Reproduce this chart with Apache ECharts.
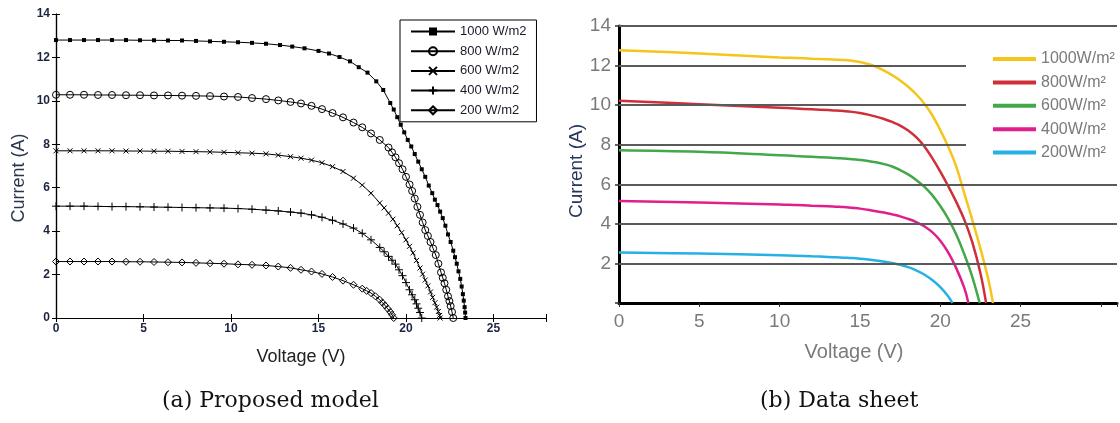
<!DOCTYPE html>
<html>
<head>
<meta charset="utf-8">
<script src="https://cdn.jsdelivr.net/npm/echarts@6/dist/echarts.min.js"></script>
<style>
  html, body { margin: 0; padding: 0; background: #fff; }
  #chart { width: 1120px; height: 423px; }
</style>
</head>
<body>
<div id="chart"></div>
<script>
// (a) proposed model, [voltage, current]
const namesA = ['1000 W/m2', '800 W/m2', '600 W/m2', '400 W/m2', '200 W/m2']
const model1000 = [[0,12.8],[0.8,12.8],[1.6,12.8],[2.4,12.8],[3.2,12.8],[4,12.8],[4.8,12.79],[5.6,12.79],[6.4,12.78],[7.2,12.78],[8,12.76],[8.8,12.74],[9.6,12.72],[10.4,12.7],[11.2,12.67],[12,12.63],[12.8,12.57],[13.5,12.5],[14.2,12.42],[15,12.3],[15.6,12.18],[16.2,12.02],[16.8,11.82],[17.3,11.55],[17.8,11.3],[18.3,10.9],[18.7,10.5],[19.1,9.9],[19.3,9.6],[19.5,9.25],[19.7,8.9],[19.9,8.55],[20.1,8.2],[20.3,7.9],[20.5,7.55],[20.7,7.2],[20.9,6.85],[21.1,6.5],[21.3,6.1],[21.5,5.75],[21.65,5.45],[21.8,5.2],[21.95,4.9],[22.1,4.6],[22.25,4.25],[22.4,3.85],[22.55,3.5],[22.7,3.1],[22.8,2.8],[22.9,2.5],[23,2.15],[23.1,1.8],[23.18,1.45],[23.25,1.1],[23.3,0.8],[23.35,0.5],[23.38,0.25],[23.4,0]]
const model800 = [[0,10.28],[0.8,10.28],[1.6,10.28],[2.4,10.27],[3.2,10.27],[4,10.26],[4.8,10.26],[5.6,10.25],[6.4,10.25],[7.2,10.24],[8,10.23],[8.8,10.22],[9.6,10.2],[10.4,10.18],[11.2,10.13],[12,10.08],[12.7,10.02],[13.4,9.95],[14,9.88],[14.6,9.77],[15.2,9.62],[15.8,9.44],[16.4,9.24],[17,9.0],[17.5,8.78],[18,8.5],[18.5,8.2],[19,7.85],[19.2,7.63],[19.4,7.4],[19.6,7.13],[19.8,6.85],[20,6.5],[20.2,6.15],[20.35,5.85],[20.5,5.5],[20.65,5.12],[20.8,4.75],[20.95,4.4],[21.1,4.05],[21.25,3.78],[21.4,3.5],[21.55,3.2],[21.7,2.9],[21.85,2.5],[22,2.1],[22.1,1.85],[22.2,1.6],[22.3,1.3],[22.4,1.0],[22.48,0.78],[22.55,0.55],[22.63,0.28],[22.7,0]]
const model600 = [[0,7.7],[0.8,7.7],[1.6,7.7],[2.4,7.7],[3.2,7.7],[4,7.69],[4.8,7.69],[5.6,7.68],[6.4,7.68],[7.2,7.67],[8,7.66],[8.8,7.65],[9.6,7.63],[10.4,7.61],[11.2,7.59],[12,7.56],[12.7,7.5],[13.4,7.43],[14,7.36],[14.6,7.27],[15.2,7.15],[15.8,6.97],[16.4,6.75],[17,6.44],[17.5,6.12],[18,5.75],[18.5,5.3],[18.75,5.07],[19,4.83],[19.25,4.55],[19.5,4.25],[19.75,3.93],[20,3.6],[20.2,3.3],[20.4,3.0],[20.6,2.65],[20.8,2.3],[20.95,2.02],[21.1,1.75],[21.25,1.48],[21.4,1.2],[21.52,0.95],[21.65,0.7],[21.75,0.5],[21.85,0.3],[21.92,0.12],[21.95,0]]
const model400 = [[0,5.15],[0.8,5.15],[1.6,5.15],[2.4,5.14],[3.2,5.13],[4,5.13],[4.8,5.12],[5.6,5.11],[6.4,5.1],[7.2,5.09],[8,5.08],[8.8,5.07],[9.6,5.06],[10.4,5.04],[11.2,5.01],[12,4.97],[12.7,4.93],[13.4,4.88],[14,4.83],[14.6,4.75],[15.2,4.64],[15.8,4.5],[16.4,4.33],[17,4.14],[17.5,3.9],[18,3.6],[18.5,3.25],[18.75,3.05],[19,2.84],[19.2,2.66],[19.4,2.48],[19.6,2.22],[19.8,1.95],[20,1.63],[20.2,1.3],[20.35,1.07],[20.5,0.84],[20.6,0.65],[20.7,0.45],[20.8,0.25],[20.9,0]]
const model200 = [[0,2.6],[0.8,2.6],[1.6,2.6],[2.4,2.6],[3.2,2.6],[4,2.59],[4.8,2.59],[5.6,2.58],[6.4,2.57],[7.2,2.56],[8,2.54],[8.8,2.52],[9.6,2.5],[10.4,2.47],[11.2,2.45],[12,2.42],[12.7,2.37],[13.4,2.31],[14,2.22],[14.6,2.14],[15.2,2.03],[15.8,1.89],[16.4,1.72],[17,1.53],[17.5,1.35],[17.75,1.25],[18,1.15],[18.25,1.0],[18.5,0.84],[18.65,0.71],[18.8,0.58],[18.95,0.43],[19.1,0.28],[19.2,0.15],[19.3,0]]

// (b) data sheet, [voltage, current]
const namesB = ['1000W/m²', '800W/m²', '600W/m²', '400W/m²', '200W/m²']
const sheet1000 = [[0,12.78],[5,12.61],[10,12.41],[11,12.38],[12,12.35],[13,12.32],[13.5,12.3],[14,12.28],[14.5,12.24],[15,12.18],[15.5,12.08],[16,11.94],[16.5,11.75],[17,11.52],[17.5,11.25],[18,10.93],[18.5,10.55],[19,10.08],[19.5,9.49],[20,8.74],[20.5,7.89],[21,6.88],[21.5,5.53],[22,4.18],[22.5,2.75],[23,1.15],[23.28,0]]
const sheet800 = [[0,10.22],[5,10.05],[10,9.87],[11,9.83],[12,9.79],[13,9.75],[13.5,9.73],[14,9.7],[14.5,9.66],[15,9.6],[15.5,9.52],[16,9.42],[16.5,9.3],[17,9.15],[17.5,8.97],[18,8.72],[18.5,8.38],[19,7.92],[19.5,7.32],[20,6.64],[20.5,5.9],[21,5.1],[21.5,4.2],[22,3.05],[22.5,1.5],[22.85,0]]
const sheet600 = [[0,7.72],[5,7.64],[10,7.47],[11,7.43],[12,7.39],[13,7.35],[13.5,7.33],[14,7.3],[14.5,7.27],[15,7.23],[15.5,7.18],[16,7.11],[16.5,7.02],[17,6.9],[17.5,6.72],[18,6.5],[18.5,6.22],[19,5.88],[19.5,5.45],[20,4.9],[20.5,4.25],[21,3.45],[21.5,2.45],[22,1.3],[22.45,0]]
const sheet400 = [[0,5.16],[5,5.08],[10,4.98],[11,4.95],[12,4.92],[13,4.89],[13.5,4.87],[14,4.85],[14.5,4.81],[15,4.77],[15.5,4.71],[16,4.64],[16.5,4.57],[17,4.48],[17.5,4.38],[18,4.25],[18.5,4.09],[19,3.88],[19.5,3.58],[20,3.15],[20.5,2.55],[21,1.75],[21.5,0.75],[21.75,0]]
const sheet200 = [[0,2.55],[5,2.5],[10,2.41],[11,2.39],[12,2.36],[13,2.33],[13.5,2.31],[14,2.29],[14.5,2.27],[15,2.24],[15.5,2.2],[16,2.15],[16.5,2.09],[17,2.02],[17.5,1.93],[18,1.81],[18.5,1.65],[19,1.44],[19.5,1.16],[20,0.8],[20.5,0.33],[20.75,0]]

const xLabelsA = [0, 5, 10, 15, 20, 25]
const yLabelsA = [0, 2, 4, 6, 8, 10, 12, 14]
const xLabelsB = [0, 5, 10, 15, 20, 25]
const yLabelsB = [2, 4, 6, 8, 10, 12, 14]
const gridFullB = [2, 4, 6, 14]
const gridShortB = [8, 10, 12]
const shortEndB = 21.6

const symbolsA = [
  'rect',
  'path://M10,5A5,5,0,1,1,0,5A5,5,0,1,1,10,5Z',
  'path://M0,0L10,10M10,0L0,10',
  'path://M5,0L5,10M0,5L10,5',
  'path://M5,0L10,5L5,10L0,5Z'
]
const symbolSizesA = [4, 7, 5, 8, 7]
const colorsB = ['#f6c51c', '#cf2f38', '#43a84a', '#e01e8c', '#27b0e6']

const sans = 'Liberation Sans'
const chart = echarts.init(document.getElementById('chart'))

const modelSeries = [model1000, model800, model600, model400, model200].map((d, i) => ({
  name: namesA[i],
  type: 'line',
  xAxisIndex: 0,
  yAxisIndex: 0,
  data: d,
  symbol: symbolsA[i],
  symbolSize: symbolSizesA[i],
  showAllSymbol: true,
  lineStyle: { color: '#000', width: 1 },
  itemStyle: i === 0
    ? { color: '#000' }
    : { color: 'rgba(0,0,0,0)', borderColor: '#000', borderWidth: 1 },
  emphasis: { disabled: true },
  z: 3
}))

const sheetSeries = [sheet1000, sheet800, sheet600, sheet400, sheet200].map((d, i) => ({
  name: namesB[i],
  type: 'line',
  xAxisIndex: 1,
  yAxisIndex: 1,
  data: d,
  symbol: 'none',
  smooth: 0.4,
  lineStyle: { color: colorsB[i], width: 2.5 },
  itemStyle: { color: colorsB[i] },
  z: 4
}))

const gridLinesB = {
  type: 'line',
  xAxisIndex: 1,
  yAxisIndex: 1,
  data: [],
  silent: true,
  z: 1,
  markLine: {
    silent: true,
    symbol: 'none',
    label: { show: false },
    lineStyle: { color: '#5a5a5a', width: 2, type: 'solid' },
    data: gridFullB.map(v => [{ coord: [0, v] }, { coord: [31, v] }])
      .concat(gridShortB.map(v => [{ coord: [0, v] }, { coord: [shortEndB, v] }]))
  }
}

const option = {
  backgroundColor: '#fff',
  animation: false,
  grid: [
    { left: 56, top: 14, width: 490, height: 304 },
    { left: 619, top: 26, width: 499, height: 277 }
  ],
  legend: [
    {
      data: namesA,
      orient: 'vertical',
      left: 400,
      top: 20,
      itemWidth: 44,
      itemHeight: 10,
      itemGap: 6.7,
      padding: [5, 10, 5, 10],
      borderColor: '#000',
      borderWidth: 1,
      backgroundColor: '#fff',
      selectedMode: false,
      textStyle: { fontFamily: sans, fontSize: 13, color: '#1a1a2a' }
    },
    {
      data: namesB,
      orient: 'vertical',
      left: 993,
      top: 51,
      icon: 'rect',
      itemWidth: 43,
      itemHeight: 4,
      itemGap: 7.4,
      padding: 0,
      selectedMode: false,
      textStyle: { fontFamily: sans, fontSize: 16, lineHeight: 16, color: '#7a7a7a' }
    }
  ],
  xAxis: [
    {
      gridIndex: 0, type: 'value', min: 0, max: 28, interval: 5,
      name: 'Voltage (V)', nameLocation: 'middle', nameGap: 30,
      nameTextStyle: { fontFamily: sans, fontSize: 18, color: '#222' },
      axisLine: { lineStyle: { color: '#000', width: 1.2 } },
      axisTick: { inside: true, length: 4, lineStyle: { color: '#000' } },
      axisLabel: {
        fontFamily: sans, fontSize: 12, fontWeight: 'bold', color: '#1c2440', margin: 5,
        formatter: v => xLabelsA.includes(v) ? String(v) : ''
      },
      splitLine: { show: false }
    },
    {
      gridIndex: 1, type: 'value', min: 0, max: 31, interval: 5,
      name: 'Voltage (V)', nameLocation: 'middle', nameGap: 39,
      nameTextStyle: { fontFamily: sans, fontSize: 20, color: '#7a7a7a', padding: [0, 28, 0, 0] },
      axisLine: { lineStyle: { color: '#000', width: 3 } },
      axisTick: { length: 4, lineStyle: { color: '#333', width: 1 } },
      axisLabel: {
        fontFamily: sans, fontSize: 19, color: '#7a7a7a', margin: 9,
        formatter: v => xLabelsB.includes(v) ? String(v) : ''
      },
      splitLine: { show: false }
    },
    {
      gridIndex: 0, type: 'value', min: 0, max: 28, interval: 5, position: 'top',
      axisLine: { lineStyle: { color: '#000', width: 1.2 } },
      axisTick: { inside: true, length: 4, lineStyle: { color: '#000' } },
      axisLabel: { show: false },
      splitLine: { show: false }
    }
  ],
  yAxis: [
    {
      gridIndex: 0, type: 'value', min: 0, max: 14, interval: 2,
      name: 'Current (A)', nameLocation: 'middle', nameGap: 28,
      nameTextStyle: { fontFamily: sans, fontSize: 18, color: '#2a3550', padding: [0, 24, 0, 0] },
      axisLine: { show: true, lineStyle: { color: '#000', width: 1.2 } },
      axisTick: { show: true, inside: true, length: 4, lineStyle: { color: '#000' } },
      axisLabel: {
        fontFamily: sans, fontSize: 12, fontWeight: 'bold', color: '#1c2440', margin: 6,
        formatter: v => yLabelsA.includes(v) ? String(v) : ''
      },
      splitLine: { show: false }
    },
    {
      gridIndex: 1, type: 'value', min: 0, max: 14, interval: 2,
      name: 'Current (A)', nameLocation: 'middle', nameGap: 30,
      nameTextStyle: { fontFamily: sans, fontSize: 19, color: '#24365a', padding: [0, 13, 0, 0] },
      axisLine: { show: true, lineStyle: { color: '#000', width: 3 } },
      axisTick: { show: true, length: 4, lineStyle: { color: '#333', width: 1.5 } },
      axisLabel: {
        fontFamily: sans, fontSize: 19, color: '#7a7a7a', margin: 8,
        formatter: v => yLabelsB.includes(v) ? String(v) : ''
      },
      splitLine: { show: false }
    },
    {
      gridIndex: 0, type: 'value', min: 0, max: 14, interval: 2, position: 'right',
      axisLine: { show: true, lineStyle: { color: '#000', width: 1.2 } },
      axisTick: { show: true, inside: true, length: 4, lineStyle: { color: '#000' } },
      axisLabel: { show: false },
      splitLine: { show: false }
    }
  ],
  graphic: [
    {
      type: 'text', left: 162, top: 390,
      style: { text: '(a) Proposed model', font: '22px "DejaVu Serif"', fill: '#111' }
    },
    {
      type: 'text', left: 760, top: 390,
      style: { text: '(b) Data sheet', font: '22px "DejaVu Serif"', fill: '#111' }
    }
  ],
  series: [gridLinesB].concat(modelSeries, sheetSeries)
}

chart.setOption(option)
</script>
</body>
</html>
